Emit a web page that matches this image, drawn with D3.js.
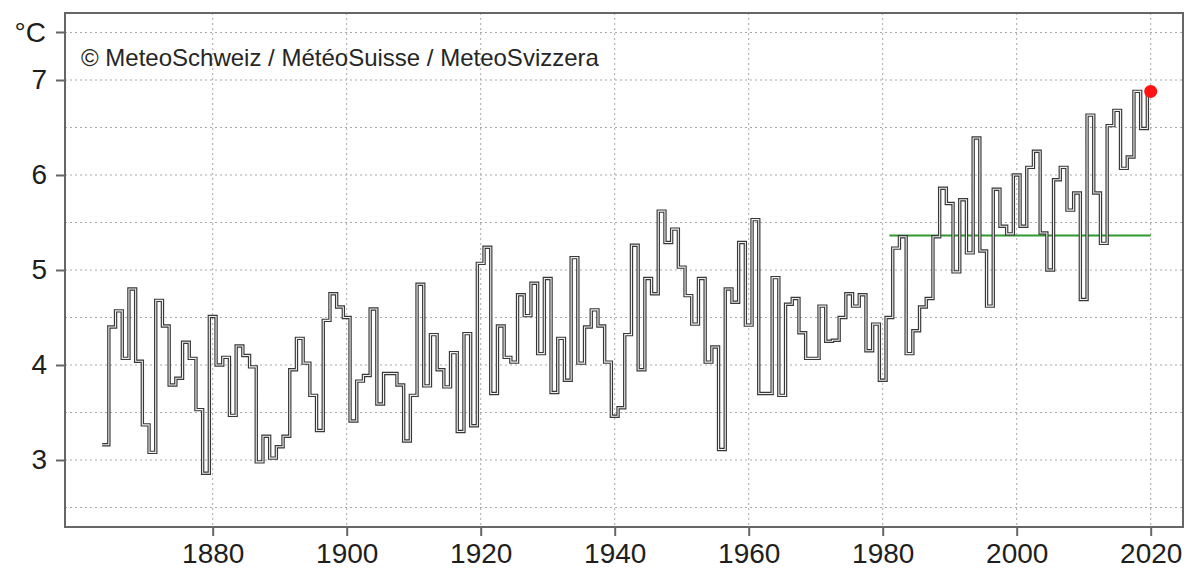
<!DOCTYPE html>
<html><head><meta charset="utf-8">
<script src="https://cdn.jsdelivr.net/npm/d3@7"></script>
<style>html,body{margin:0;padding:0;background:#fff;}svg{display:block;font-family:"Liberation Sans",Arial,sans-serif;}</style>
</head><body><svg id="c" width="1190" height="577"></svg>
<script>
const startYear = 1864;
const temps = [
3.16,4.40,4.57,4.07,4.80,4.04,3.37,3.08,4.68,4.41,3.79,3.86,4.24,4.07,3.53,2.86,
4.51,4.00,4.08,3.47,4.20,4.10,3.98,2.98,3.25,3.02,3.14,3.25,3.95,4.28,4.02,3.68,3.31,4.47,4.75,4.61,
4.50,3.41,3.83,3.89,4.59,3.59,3.91,3.91,3.79,3.20,3.68,4.85,3.78,4.32,3.95,3.77,4.13,3.30,4.33,3.36,
5.07,5.24,3.70,4.41,4.08,4.03,4.74,4.52,4.86,4.12,4.91,3.71,4.28,3.84,5.13,4.02,4.40,4.58,4.41,4.03,
3.46,3.55,4.32,5.26,3.95,4.91,4.75,5.62,5.29,5.43,5.03,4.73,4.43,4.91,4.03,4.19,3.11,4.80,4.66,5.29,
4.42,5.53,3.70,3.70,4.92,3.68,4.64,4.70,4.34,4.07,4.07,4.62,4.25,4.26,4.50,4.75,4.62,4.74,4.15,4.43,
3.84,4.50,5.23,5.35,4.12,4.36,4.61,4.70,5.35,5.86,5.70,4.98,5.74,5.18,6.39,5.20,4.62,5.85,5.46,5.38,
6.00,5.46,6.08,6.25,5.39,5.00,5.95,6.08,5.63,5.81,4.69,6.63,5.81,5.28,6.52,6.68,6.07,6.19,6.88,6.49,
6.88];
const years = temps.map((_, i) => startYear + i);
const normalPeriod = [1981, 2010];
const xTickYears = [1880, 1900, 1920, 1940, 1960, 1980, 2000, 2020];
const yTickValues = [3, 4, 5, 6, 7];
const yGridValues = [2.5, 3, 3.5, 4, 4.5, 5, 5.5, 6, 6.5, 7, 7.5];
const unitLabel = "°C";
const credit = "© MeteoSchweiz / MétéoSuisse / MeteoSvizzera";

const svg = d3.select("#c");
const L = 65, T = 13, R = 1183, B = 527;
const x = d3.scaleLinear().domain([1880, 2020]).range([212.7, 1150.7]);
const y = d3.scaleLinear().domain([3, 7]).range([460, 80]);

// gridlines
const g = svg.append("g");
g.selectAll("line.hg").data(yGridValues).join("line")
  .attr("x1", L).attr("x2", R).attr("y1", d => y(d)).attr("y2", d => y(d))
  .attr("stroke", "#a8a8a8").attr("stroke-width", 1).attr("stroke-dasharray", "2,3");
g.selectAll("line.vg").data(xTickYears).join("line")
  .attr("x1", d => x(d)).attr("x2", d => x(d)).attr("y1", T).attr("y2", B)
  .attr("stroke", "#a8a8a8").attr("stroke-width", 1).attr("stroke-dasharray", "2,3");

// frame
svg.append("rect").attr("x", L).attr("y", T).attr("width", R - L).attr("height", B - T)
  .attr("fill", "none").attr("stroke", "#666").attr("stroke-width", 2);

// axes
const yAxis = d3.axisLeft(y).tickValues(yTickValues).tickSize(9).tickPadding(9).tickFormat(d3.format("d"));
const ya = svg.append("g").attr("transform", `translate(${L},0)`).call(yAxis);
ya.select(".domain").remove();
ya.selectAll(".tick line").attr("stroke", "#666").attr("stroke-width", 2);
ya.selectAll(".tick text").attr("font-size", 28).attr("fill", "#1e1e1e").attr("font-family", "Liberation Sans, Arial, sans-serif");
// unit tick at 7.5
svg.append("line").attr("x1", L - 9).attr("x2", L).attr("y1", y(7.5)).attr("y2", y(7.5))
  .attr("stroke", "#666").attr("stroke-width", 2);
svg.append("text").attr("x", L - 19).attr("y", y(7.5)).attr("dy", "0.35em").attr("text-anchor", "end")
  .attr("font-size", 28).attr("fill", "#1e1e1e").text(unitLabel);

const xAxis = d3.axisBottom(x).tickValues(xTickYears).tickSize(9).tickPadding(7).tickFormat(d3.format("d"));
const xa = svg.append("g").attr("transform", `translate(0,${B})`).call(xAxis);
xa.select(".domain").remove();
xa.selectAll(".tick line").attr("stroke", "#666").attr("stroke-width", 2);
xa.selectAll(".tick text").attr("font-size", 28).attr("fill", "#1e1e1e").attr("font-family", "Liberation Sans, Arial, sans-serif");

// credit
svg.append("text").attr("x", 81).attr("y", 66).attr("font-size", 24).attr("fill", "#262626").text(credit);

// normal line
const normal = d3.mean(temps.filter((v, i) => years[i] >= normalPeriod[0] && years[i] <= normalPeriod[1]));
svg.append("line").attr("x1", x(normalPeriod[0])).attr("x2", x(2020)).attr("y1", y(normal)).attr("y2", y(normal))
  .attr("stroke", "#2e9a2e").attr("stroke-width", 2);

// step line
const pts = [];
temps.forEach((v, i) => { pts.push([years[i] - 0.5, v]); pts.push([years[i] + 0.5, v]); });
pts.pop(); pts[pts.length - 1][0] = years[years.length - 1] - 0.5;
pts.push([years[years.length - 1], temps[temps.length - 1]]);
const line = d3.line().x(d => x(d[0])).y(d => y(d[1]));
svg.append("path").attr("d", line(pts)).attr("fill", "none").attr("stroke", "#383838")
  .attr("stroke-width", 3.4).attr("stroke-linejoin", "miter");
svg.append("path").attr("d", line(pts)).attr("fill", "none").attr("stroke", "#f0f0f0")
  .attr("stroke-width", 1.1).attr("stroke-linejoin", "miter");

// last value dot
svg.append("circle").attr("cx", x(years[years.length - 1])).attr("cy", y(temps[temps.length - 1]))
  .attr("r", 6.5).attr("fill", "#ff1414");
</script></body></html>
